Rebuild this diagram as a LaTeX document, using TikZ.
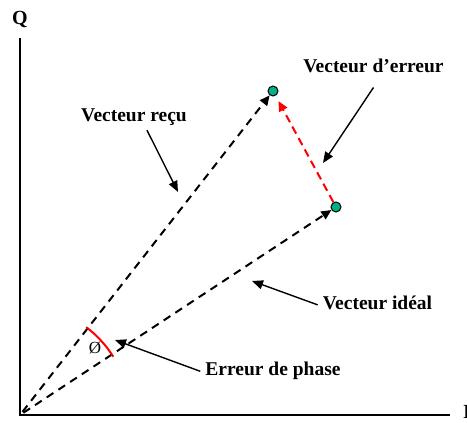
\documentclass[tikz,border=0pt]{standalone}
\usepackage{fontspec}
\setmainfont{Liberation Serif}
\usetikzlibrary{arrows.meta}
\definecolor{dotgreen}{RGB}{0,176,136}
\begin{document}
\begin{tikzpicture}[x=1pt,y=1pt,
  lbl/.style={font=\bfseries\fontsize{19.5}{21}\selectfont, inner sep=0pt, anchor=base},
  axis/.style={line width=2pt},
  vec/.style={dash pattern=on 8pt off 6pt, line width=2pt, shorten <=4pt, -{Triangle[length=10pt,width=9pt]}},
  errvec/.style={red, dash pattern=on 8pt off 5pt, line width=2pt, shorten >=6pt, -{Triangle[length=10pt,width=9pt]}},
  ptr/.style={line width=1.4pt, -{Triangle[length=11pt,width=9pt]}},
  pt/.style={circle, draw=black, line width=1pt, fill=dotgreen, minimum size=10pt, inner sep=0pt}]
\useasboundingbox (0,0) rectangle (467,423);
% axes
\coordinate (O) at (20,8);
\coordinate (Qend) at (20,385);
\coordinate (Iend) at (450,8);
\draw[axis] (Qend) -- (O) -- (Iend);
\node[font=\bfseries\fontsize{20}{22}\selectfont, inner sep=0pt] (Q) at (20,403) {Q};
\node[font=\bfseries\fontsize{20}{22}\selectfont, inner sep=0pt, anchor=base west] (I) at (463,4) {I};
% points
\node[pt] (R) at (273,332) {};
\node[pt] (D) at (336,216) {};
% vectors
\draw[vec] (O) -- (R);
\draw[vec] (O) -- (D);
\draw[errvec] (D) -- (R);
% phase arc
\draw[red, line width=2pt] (O) ++(32:110) arc[start angle=32, end angle=53, radius=110];
\node[font=\fontsize{17}{18}\selectfont, inner sep=0pt] (phi) at (95,75) {Ø};
% labels
\node[lbl] (lerr) at (373.5,350) {Vecteur d’erreur};
\node[lbl] (lrecu) at (134,301) {Vecteur reçu};
\node[lbl] (lideal) at (377.5,113) {Vecteur idéal};
\node[lbl] (lphase) at (273,47) {Erreur de phase};
% pointer tips
\coordinate (terr) at (323,260);
\coordinate (trecu) at (178,231);
\coordinate (tideal) at (252,142);
\coordinate (tphase) at (115,83);
\draw[ptr] ([yshift=-14pt]lerr.south) -- (terr);
\draw[ptr] ([shift={(13pt,-4pt)}]lrecu.south) -- (trecu);
\draw[ptr] ([shift={(-5pt,-1.5pt)}]lideal.west) -- (tideal);
\draw[ptr] ([xshift=-5pt]lphase.west) -- (tphase);
\end{tikzpicture}
\end{document}
